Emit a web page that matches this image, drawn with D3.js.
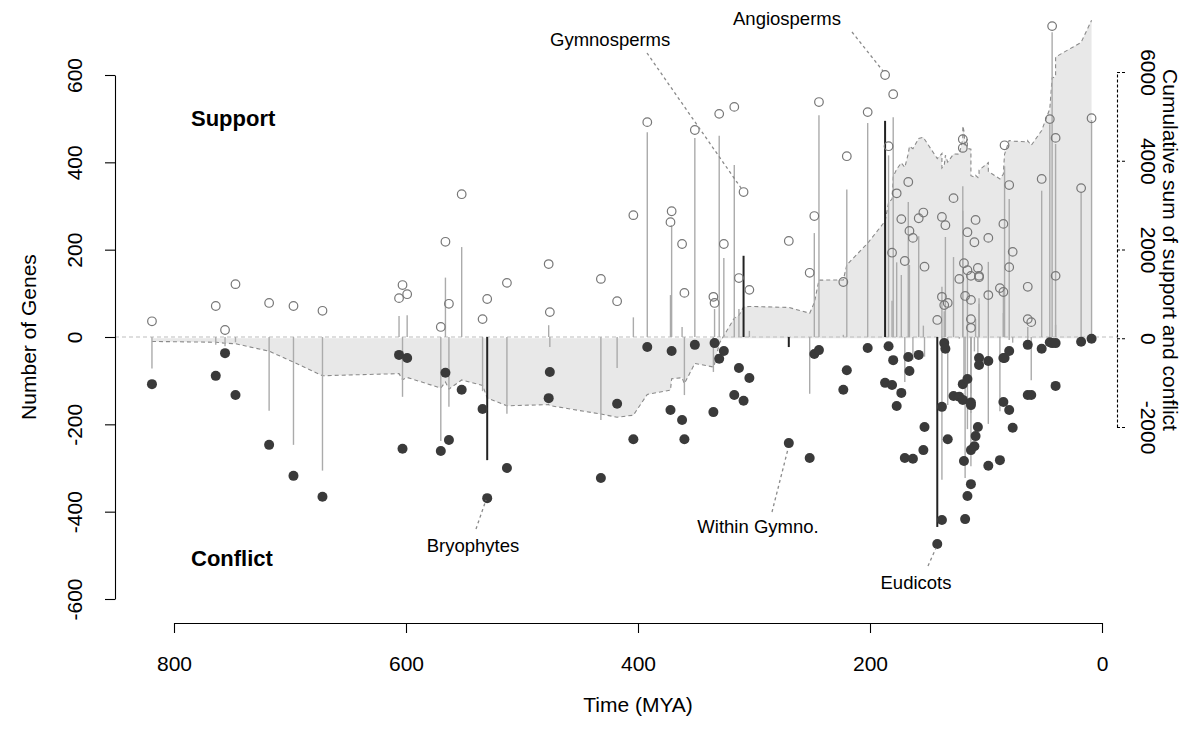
<!DOCTYPE html>
<html><head><meta charset="utf-8">
<script src="https://cdn.jsdelivr.net/npm/d3@7"></script>
<style>body{margin:0;background:#fff} text{font-family:"Liberation Sans",Arial,Helvetica,sans-serif}</style>
</head><body><svg id="c" width="1182" height="732"></svg>
<script>
// Node ages (MYA), oldest first
const mya = [819,764,756,747,718,697,672,606,603,599,570,566,563,552,534,530,513,477,476,432,418,404,392,372,371,362,360,351,335,334,330,326,317,313,309,304,270,252,248,244,223,220,202,187,184,181,180,177,173,170,167,166,163,158,154,153,142,138,138,136,135,133,128,123,120,120,119,118,116,116,113,113,113,113,110,109,107,106,106,98,98,88,85,85,84,80,80,77,64,64,61,52,45,43,40,40,18,9];
// Number of genes supporting each node
const support = [36,71,16,121,78,71,60,89,119,98,23,218,76,327,41,87,124,167,57,133,82,279,492,263,288,213,101,474,92,78,511,213,527,135,332,108,220,147,277,538,126,414,515,600,437,193,556,329,270,174,355,243,227,272,285,161,39,275,92,73,256,78,318,133,453,433,169,94,240,153,140,85,41,21,217,268,158,137,140,227,96,112,259,103,439,348,160,195,115,41,34,362,499,712,140,456,341,501];
// Number of genes in conflict with each node
const conflict = [108,89,37,133,247,318,366,41,256,48,261,82,236,121,165,369,300,140,80,323,153,234,23,167,32,190,234,18,172,14,50,32,133,71,146,94,243,277,39,30,121,76,25,105,21,110,53,158,128,277,46,78,279,41,259,206,474,160,419,14,27,234,135,137,108,144,284,417,96,364,156,259,337,150,250,227,206,48,64,55,295,282,149,48,48,32,167,208,133,18,133,27,12,14,112,14,11,4];
// Labelled clades
const cladeNames = ["Bryophytes","Gymnosperms","Within Gymno.","Angiosperms","Eudicots"];
const cladeMya = [530,309,270,187,142];
// Axis ticks
const xTicks = [800,600,400,200,0];
const yTicks = [-600,-400,-200,0,200,400,600];
const y2Ticks = [-2000,0,2000,4000,6000];

const svg = d3.select("#c");
const x = d3.scaleLinear().domain([800,0]).range([174,1102]);
const y = d3.scaleLinear().domain([-600,600]).range([599,75]);
const y2 = d3.scaleLinear().domain([-2000,6000]).range([427,72]);

const nodes = mya.map((m,i)=>({m, s:support[i], c:conflict[i], net:support[i]-conflict[i]}));
let cum = 0;
nodes.forEach(d=>{cum += d.net; d.cum = cum;});
const highlighted = new Set(cladeMya);

// cumulative area
svg.append("path").datum(nodes)
  .attr("d", d3.area().x(d=>x(d.m)).y0(y2(0)).y1(d=>y2(d.cum)))
  .attr("fill","#e8e8e8");
svg.append("path").datum(nodes)
  .attr("d", d3.line().x(d=>x(d.m)).y(d=>y2(d.cum)))
  .attr("fill","none").attr("stroke","#8a8a8a").attr("stroke-width",1.1).attr("stroke-dasharray","4,3");

// zero line
svg.append("line").attr("x1",115).attr("x2",1117).attr("y1",y(0)).attr("y2",y(0))
  .attr("stroke","#bdbdbd").attr("stroke-width",1).attr("stroke-dasharray","4,3");

// net lines
svg.append("g").selectAll("line").data(nodes.filter(d=>!highlighted.has(d.m))).join("line")
  .attr("x1",d=>x(d.m)).attr("x2",d=>x(d.m)).attr("y1",y(0)).attr("y2",d=>y(d.net))
  .attr("stroke","#ababab").attr("stroke-width",1.4);
svg.append("g").selectAll("line").data(nodes.filter(d=>highlighted.has(d.m))).join("line")
  .attr("x1",d=>x(d.m)).attr("x2",d=>x(d.m)).attr("y1",y(0)).attr("y2",d=>y(d.net))
  .attr("stroke","#222").attr("stroke-width",2);

// support (open) and conflict (filled) points
svg.append("g").selectAll("circle").data(nodes).join("circle")
  .attr("cx",d=>x(d.m)).attr("cy",d=>y(d.s)).attr("r",4.3)
  .attr("fill","none").attr("stroke","#777").attr("stroke-width",1.2);
svg.append("g").selectAll("circle").data(nodes).join("circle")
  .attr("cx",d=>x(d.m)).attr("cy",d=>y(-d.c)).attr("r",5)
  .attr("fill","#3a3a3a");

// axes
const fs = 21;
const gl = svg.append("g").attr("transform","translate(115,0)")
  .call(d3.axisLeft(y).tickValues(yTicks).tickSize(10).tickSizeOuter(0).tickFormat(d=>String(d)));
gl.selectAll(".tick text").attr("x",null).attr("dy",null).attr("text-anchor","middle")
  .attr("transform","translate(-33,0) rotate(-90)").attr("font-size",fs).attr("fill","#000");
const gb = svg.append("g").attr("transform","translate(0,623)")
  .call(d3.axisBottom(x).tickValues(xTicks).tickSize(10).tickSizeOuter(0).tickFormat(d=>String(d)));
gb.selectAll(".tick text").attr("y",48).attr("dy",null).attr("font-size",fs).attr("fill","#000");
const gr = svg.append("g").attr("transform","translate(1117,0)")
  .call(d3.axisRight(y2).tickValues(y2Ticks).tickSize(10).tickSizeOuter(0).tickFormat(d=>String(d)));
gr.selectAll(".tick text").attr("x",null).attr("dy",null).attr("text-anchor","middle")
  .attr("transform","translate(24,0) rotate(90)").attr("font-size",fs).attr("fill","#000");
gr.selectAll("path, line").attr("stroke-dasharray","3,2");
svg.selectAll(".domain, .tick line").attr("stroke","#000").attr("stroke-width",1.1);
svg.selectAll("g text").attr("font-family",null);

// axis titles
svg.append("text").attr("transform","translate(36,337) rotate(-90)").attr("text-anchor","middle")
  .attr("font-size",fs).text("Number of Genes");
svg.append("text").attr("x",638).attr("y",712).attr("text-anchor","middle")
  .attr("font-size",fs).text("Time (MYA)");
svg.append("text").attr("transform","translate(1163,250) rotate(90)").attr("text-anchor","middle")
  .attr("font-size",fs).text("Cumulative sum of support and conflict");

// Support / Conflict
svg.append("text").attr("x",191).attr("y",126).attr("font-size",22).attr("font-weight","bold").text("Support");
svg.append("text").attr("x",191).attr("y",566).attr("font-size",22).attr("font-weight","bold").text("Conflict");

// clade annotations
const ann = [
  {lx:550, ly:46, anchor:"start", x1:647, y1:53, x2:741, y2:188},
  {lx:733, ly:25, anchor:"start", x1:852, y1:32, x2:883, y2:71},
  {lx:473, ly:552, anchor:"middle", x1:476, y1:529, x2:486, y2:500},
  {lx:758, ly:533, anchor:"middle", x1:772, y1:512, x2:788, y2:449},
  {lx:916, ly:589, anchor:"middle", x1:928, y1:566, x2:936, y2:548}
];
const annOrder = ["Gymnosperms","Angiosperms","Bryophytes","Within Gymno.","Eudicots"];
annOrder.forEach((name,i)=>{
  const a = ann[i];
  svg.append("line").attr("x1",a.x1).attr("y1",a.y1).attr("x2",a.x2).attr("y2",a.y2)
    .attr("stroke","#8a8a8a").attr("stroke-width",1.3).attr("stroke-dasharray","3,3");
  svg.append("text").attr("x",a.lx).attr("y",a.ly).attr("text-anchor",a.anchor)
    .attr("font-size",18.5).text(cladeNames[cladeNames.indexOf(name)]);
});
</script></body></html>
